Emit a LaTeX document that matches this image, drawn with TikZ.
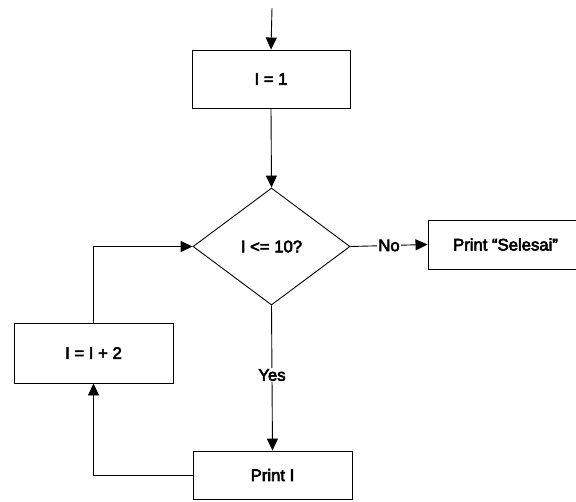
\documentclass[tikz,border=0pt]{standalone}
\usepackage{fontspec}
\setmainfont{Liberation Sans}[FakeBold=3.5]
\usetikzlibrary{shapes.geometric,arrows.meta}

\tikzset{
  every node/.style={font=\fontsize{16.7}{18}\selectfont},
  procbox/.style={draw, line width=0.9pt, inner sep=0pt},
  decision/.style={draw, diamond, line width=0.9pt, inner sep=0pt, aspect=1.34},
  flow/.style={line width=0.9pt, -{Triangle[length=12pt,width=11pt]}},
  tag/.style={fill=white, inner sep=1.5pt}
}

\begin{document}
\begin{tikzpicture}[x=1pt, y=-1pt]
  \useasboundingbox (0,0) rectangle (576,501);
  \clip (0,0) rectangle (576,501);

  % entry point
  \coordinate (start) at (272,8);

  % blocks of the flowchart
  \node[procbox, minimum width=158pt, minimum height=58pt] (init) at (271,79) {I = 1};
  \node[decision, minimum width=157pt, minimum height=117pt] (dec) at (271.5,246.5) {I <= 10?};
  \node[procbox, minimum width=155pt, minimum height=49pt] (sel) at (505.5,244.5) {Print “Selesai”};
  \node[procbox, minimum width=159pt, minimum height=48pt] (prt) at (272.5,475) {Print I};
  \node[procbox, minimum width=159pt, minimum height=60pt] (inc) at (93.5,353) {I = I + 2};

  % connectors
  \draw[flow] (start) -- (init.north);
  \draw[flow] (init.south) -- (dec.north);
  \draw[flow] (dec.east) -- node[tag, pos=0.5] {No} (sel.west);
  \draw[flow] (dec.south) -- node[tag, pos=0.48] {Yes} (prt.north);
  \draw[flow] (prt.west) -| (inc.south);
  \draw[flow] (inc.north) |- (dec.west);
\end{tikzpicture}
\end{document}
